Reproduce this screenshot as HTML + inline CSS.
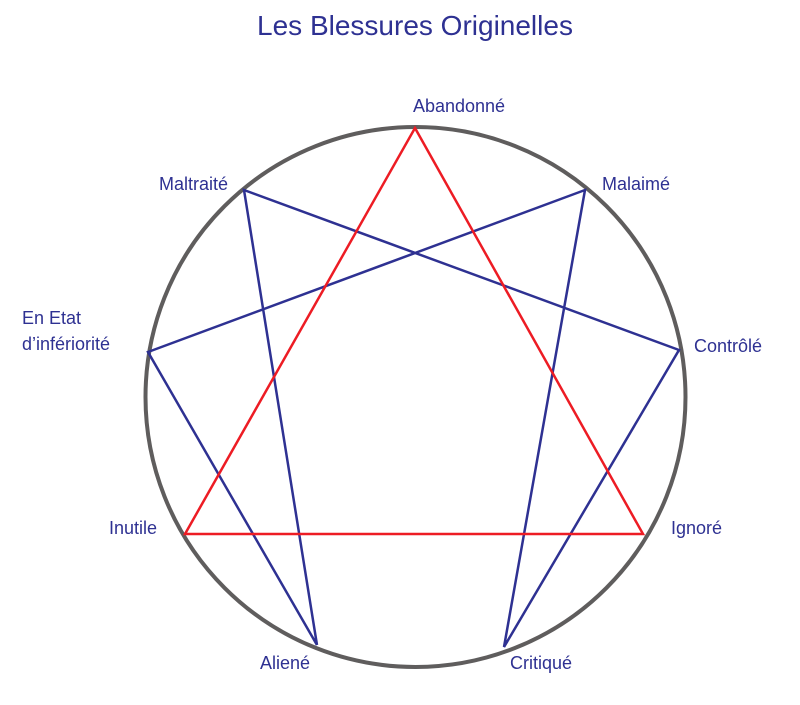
<!DOCTYPE html>
<html><head><meta charset="utf-8"><style>
html,body{margin:0;padding:0;background:#fff;width:800px;height:705px;overflow:hidden}
svg text{font-family:"Liberation Sans",sans-serif;fill:#2e3192}
</style></head><body>
<svg width="800" height="705" viewBox="0 0 800 705" xmlns="http://www.w3.org/2000/svg">
<text x="415" y="35" font-size="28" text-anchor="middle">Les Blessures Originelles</text>
<circle cx="415.5" cy="397" r="270" fill="none" stroke="#5f5d5d" stroke-width="4"/>
<g stroke="#2e3192" stroke-width="2.5" fill="none" stroke-linejoin="miter">
<polyline points="317,645 244,190 679,350 504,647 585,190 148,352 317,645"/>
</g>
<polygon points="415,128 643,534 185,534" fill="none" stroke="#ed1c24" stroke-width="2.5"/>
<g font-size="18">
<text x="459" y="112" text-anchor="middle">Abandonné</text>
<text x="602" y="190">Malaimé</text>
<text x="228" y="190" text-anchor="end">Maltraité</text>
<text x="694" y="352">Contrôlé</text>
<text x="22" y="324">En Etat</text>
<text x="22" y="350">d’infériorité</text>
<text x="671" y="534">Ignoré</text>
<text x="157" y="534" text-anchor="end">Inutile</text>
<text x="510" y="669">Critiqué</text>
<text x="285" y="669" text-anchor="middle">Aliené</text>
</g>
</svg>
</body></html>
